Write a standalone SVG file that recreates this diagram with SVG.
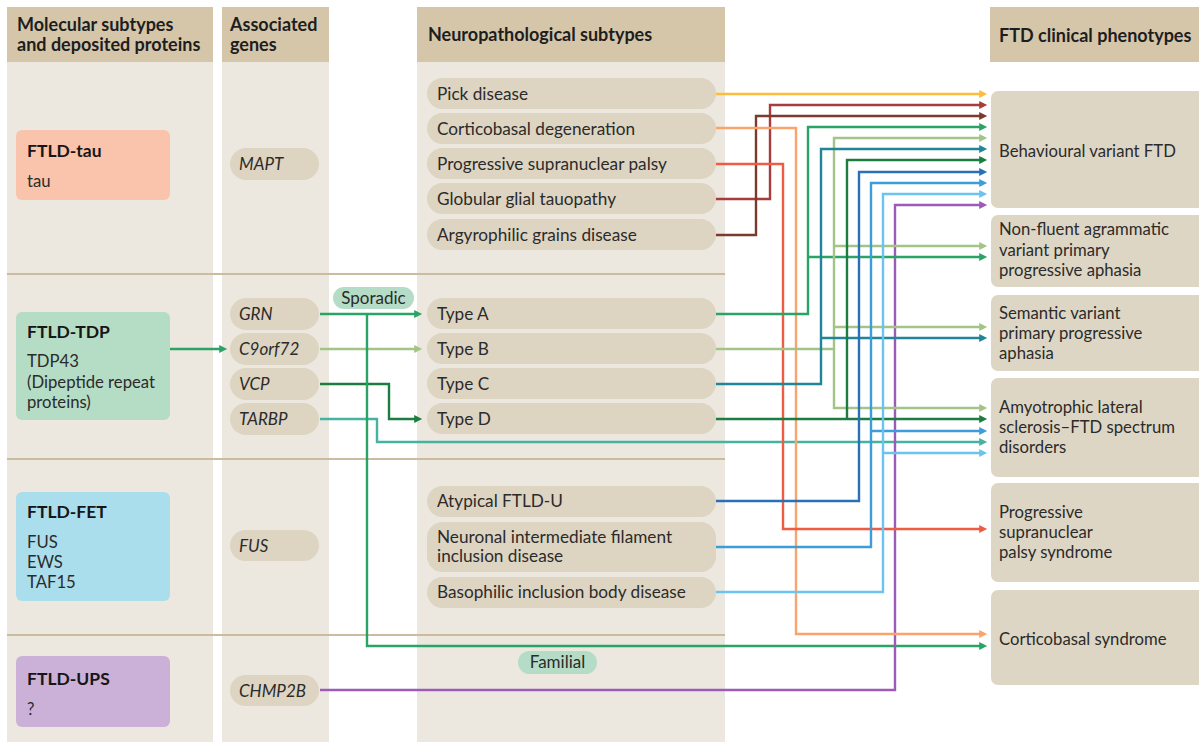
<svg xmlns="http://www.w3.org/2000/svg" width="1199" height="742" viewBox="0 0 1199 742">
<style>
text{font-family:Lato,"Open Sans","Liberation Sans",sans-serif;fill:#2b2b2b}
.hd{font-weight:bold;font-size:18px;fill:#1e1e1e}
.ti{font-weight:bold;font-size:17.5px;fill:#161616}
.bd{font-size:16.7px}
.np{font-size:17.2px}
.gn{font-size:17px;font-style:italic}
.lb{font-size:17px}
.col{fill:#ede8df}
.hdr{fill:#d5c6aa}
.pill{fill:#ddd4c2}
.ph{fill:#ded6c4}
.sep{stroke:#cbbc9f;stroke-width:2;fill:none}
.c{fill:none;stroke-width:2.4}
</style>
<defs>
<marker id="m-yel" viewBox="0 0 10 10" refX="1" refY="5" markerWidth="9" markerHeight="8" markerUnits="userSpaceOnUse" orient="auto"><path d="M0,0L10,5L0,10z" fill="#fbbd3c"/></marker>
<marker id="m-drd" viewBox="0 0 10 10" refX="1" refY="5" markerWidth="9" markerHeight="8" markerUnits="userSpaceOnUse" orient="auto"><path d="M0,0L10,5L0,10z" fill="#a83b3b"/></marker>
<marker id="m-brn" viewBox="0 0 10 10" refX="1" refY="5" markerWidth="9" markerHeight="8" markerUnits="userSpaceOnUse" orient="auto"><path d="M0,0L10,5L0,10z" fill="#7a3b2e"/></marker>
<marker id="m-org" viewBox="0 0 10 10" refX="1" refY="5" markerWidth="9" markerHeight="8" markerUnits="userSpaceOnUse" orient="auto"><path d="M0,0L10,5L0,10z" fill="#f8a46c"/></marker>
<marker id="m-red" viewBox="0 0 10 10" refX="1" refY="5" markerWidth="9" markerHeight="8" markerUnits="userSpaceOnUse" orient="auto"><path d="M0,0L10,5L0,10z" fill="#ee5c44"/></marker>
<marker id="m-grn" viewBox="0 0 10 10" refX="1" refY="5" markerWidth="9" markerHeight="8" markerUnits="userSpaceOnUse" orient="auto"><path d="M0,0L10,5L0,10z" fill="#2aa466"/></marker>
<marker id="m-lgr" viewBox="0 0 10 10" refX="1" refY="5" markerWidth="9" markerHeight="8" markerUnits="userSpaceOnUse" orient="auto"><path d="M0,0L10,5L0,10z" fill="#a2c587"/></marker>
<marker id="m-tea" viewBox="0 0 10 10" refX="1" refY="5" markerWidth="9" markerHeight="8" markerUnits="userSpaceOnUse" orient="auto"><path d="M0,0L10,5L0,10z" fill="#1f8597"/></marker>
<marker id="m-dgr" viewBox="0 0 10 10" refX="1" refY="5" markerWidth="9" markerHeight="8" markerUnits="userSpaceOnUse" orient="auto"><path d="M0,0L10,5L0,10z" fill="#1b7d40"/></marker>
<marker id="m-blu" viewBox="0 0 10 10" refX="1" refY="5" markerWidth="9" markerHeight="8" markerUnits="userSpaceOnUse" orient="auto"><path d="M0,0L10,5L0,10z" fill="#2871b6"/></marker>
<marker id="m-mbl" viewBox="0 0 10 10" refX="1" refY="5" markerWidth="9" markerHeight="8" markerUnits="userSpaceOnUse" orient="auto"><path d="M0,0L10,5L0,10z" fill="#3c9dd9"/></marker>
<marker id="m-lbl" viewBox="0 0 10 10" refX="1" refY="5" markerWidth="9" markerHeight="8" markerUnits="userSpaceOnUse" orient="auto"><path d="M0,0L10,5L0,10z" fill="#6cc3ee"/></marker>
<marker id="m-pur" viewBox="0 0 10 10" refX="1" refY="5" markerWidth="9" markerHeight="8" markerUnits="userSpaceOnUse" orient="auto"><path d="M0,0L10,5L0,10z" fill="#9b5bb6"/></marker>
<marker id="m-tgr" viewBox="0 0 10 10" refX="1" refY="5" markerWidth="9" markerHeight="8" markerUnits="userSpaceOnUse" orient="auto"><path d="M0,0L10,5L0,10z" fill="#46b3a2"/></marker>
</defs>
<rect width="1199" height="742" fill="#ffffff"/>

<g id="columns">
<rect class="col" x="7" y="62" width="206" height="680"/>
<rect class="hdr" x="7" y="7" width="206" height="55"/>
<rect class="col" x="222" y="62" width="107" height="680"/>
<rect class="hdr" x="222" y="7" width="107" height="55"/>
<rect class="col" x="417" y="62" width="308" height="680"/>
<rect class="hdr" x="417" y="7" width="308" height="55"/>
<rect class="hdr" x="990" y="7" width="209" height="55"/>
<text class="hd" x="17" y="31">Molecular subtypes</text>
<text class="hd" x="17" y="51">and deposited proteins</text>
<text class="hd" x="230" y="31">Associated</text>
<text class="hd" x="230" y="51">genes</text>
<text class="hd" x="428" y="41">Neuropathological subtypes</text>
<text class="hd" x="999" y="42">FTD clinical phenotypes</text>
<line class="sep" x1="7" y1="274" x2="725" y2="274"/>
<line class="sep" x1="7" y1="459" x2="725" y2="459"/>
<line class="sep" x1="7" y1="635" x2="725" y2="635"/>
</g>

<g id="ftld-tau"><rect x="16" y="130" width="154" height="70" rx="6" fill="#f9c4ab"/><text class="ti" x="27" y="157">FTLD-tau</text><text class="bd" x="27" y="187">tau</text></g>
<g id="ftld-tdp"><rect x="16" y="312" width="154" height="108" rx="6" fill="#b5dcc5"/><text class="ti" x="27" y="338">FTLD-TDP</text><text class="bd" x="27" y="367">TDP43</text><text class="bd" x="27" y="388">(Dipeptide repeat</text><text class="bd" x="27" y="408">proteins)</text></g>
<g id="ftld-fet"><rect x="16" y="492" width="154" height="109" rx="6" fill="#abdeec"/><text class="ti" x="27" y="518">FTLD-FET</text><text class="bd" x="27" y="548">FUS</text><text class="bd" x="27" y="568">EWS</text><text class="bd" x="27" y="588">TAF15</text></g>
<g id="ftld-ups"><rect x="16" y="656" width="154" height="71" rx="6" fill="#cbb1d8"/><text class="ti" x="27" y="685">FTLD-UPS</text><text class="bd" x="27" y="715">?</text></g>

<g id="gene-mapt"><rect class="pill" x="230" y="148" width="89" height="32" rx="16"/><text class="gn" x="239" y="170">MAPT</text></g>
<g id="gene-grn"><rect class="pill" x="230" y="298" width="89" height="32" rx="16"/><text class="gn" x="239" y="320">GRN</text></g>
<g id="gene-c9orf72"><rect class="pill" x="230" y="333" width="89" height="32" rx="16"/><text class="gn" x="239" y="355">C9orf72</text></g>
<g id="gene-vcp"><rect class="pill" x="230" y="368" width="89" height="32" rx="16"/><text class="gn" x="239" y="390">VCP</text></g>
<g id="gene-tarbp"><rect class="pill" x="230" y="403" width="89" height="32" rx="16"/><text class="gn" x="239" y="425">TARBP</text></g>
<g id="gene-fus"><rect class="pill" x="230" y="530" width="89" height="31" rx="15.5"/><text class="gn" x="239" y="552">FUS</text></g>
<g id="gene-chmp2b"><rect class="pill" x="230" y="675" width="89" height="31" rx="15.5"/><text class="gn" x="239" y="697">CHMP2B</text></g>

<g id="np-pick"><rect class="pill" x="427" y="78" width="289" height="31" rx="15.5"/><text class="np" x="437" y="100">Pick disease</text></g>
<g id="np-cbd"><rect class="pill" x="427" y="113" width="289" height="31" rx="15.5"/><text class="np" x="437" y="135">Corticobasal degeneration</text></g>
<g id="np-psp"><rect class="pill" x="427" y="148" width="289" height="31" rx="15.5"/><text class="np" x="437" y="170">Progressive supranuclear palsy</text></g>
<g id="np-ggt"><rect class="pill" x="427" y="183" width="289" height="31" rx="15.5"/><text class="np" x="437" y="205">Globular glial tauopathy</text></g>
<g id="np-agd"><rect class="pill" x="427" y="219" width="289" height="31" rx="15.5"/><text class="np" x="437" y="241">Argyrophilic grains disease</text></g>
<g id="np-typea"><rect class="pill" x="427" y="298" width="289" height="31" rx="15.5"/><text class="np" x="437" y="320">Type A</text></g>
<g id="np-typeb"><rect class="pill" x="427" y="333" width="289" height="31" rx="15.5"/><text class="np" x="437" y="355">Type B</text></g>
<g id="np-typec"><rect class="pill" x="427" y="368" width="289" height="31" rx="15.5"/><text class="np" x="437" y="390">Type C</text></g>
<g id="np-typed"><rect class="pill" x="427" y="403" width="289" height="31" rx="15.5"/><text class="np" x="437" y="425">Type D</text></g>
<g id="np-aftldu"><rect class="pill" x="427" y="486" width="289" height="31" rx="15.5"/><text class="np" x="437" y="507">Atypical FTLD-U</text></g>
<g id="np-nifid"><rect class="pill" x="427" y="522" width="289" height="50" rx="15.5"/><text class="np" x="437" y="543">Neuronal intermediate filament</text><text class="np" x="437" y="562">inclusion disease</text></g>
<g id="np-bibd"><rect class="pill" x="427" y="577" width="289" height="31" rx="15.5"/><text class="np" x="437" y="598">Basophilic inclusion body disease</text></g>

<g id="lbl-sporadic"><rect x="333" y="287" width="81" height="22" rx="11" fill="#b5dcc6"/><text class="lb" x="373.5" y="304" text-anchor="middle">Sporadic</text></g>
<g id="lbl-familial"><rect x="518" y="651" width="79" height="23" rx="11.5" fill="#b5dcc6"/><text class="lb" x="557.5" y="668" text-anchor="middle">Familial</text></g>

<g id="ph-bvftd"><rect class="ph" x="991" y="91" width="220" height="117" rx="7"/><text class="bd" x="999" y="157">Behavioural variant FTD</text></g>
<g id="ph-nfvppa"><rect class="ph" x="991" y="215" width="220" height="72" rx="7"/><text class="bd" x="999" y="235">Non-fluent agrammatic</text><text class="bd" x="999" y="256">variant primary</text><text class="bd" x="999" y="276">progressive aphasia</text></g>
<g id="ph-svppa"><rect class="ph" x="991" y="295" width="220" height="76" rx="7"/><text class="bd" x="999" y="319">Semantic variant</text><text class="bd" x="999" y="339">primary progressive</text><text class="bd" x="999" y="359">aphasia</text></g>
<g id="ph-als"><rect class="ph" x="991" y="378" width="220" height="99" rx="7"/><text class="bd" x="999" y="413">Amyotrophic lateral</text><text class="bd" x="999" y="433">sclerosis–FTD spectrum</text><text class="bd" x="999" y="453">disorders</text></g>
<g id="ph-psp"><rect class="ph" x="991" y="483" width="220" height="99" rx="7"/><text class="bd" x="999" y="518">Progressive</text><text class="bd" x="999" y="538">supranuclear</text><text class="bd" x="999" y="558">palsy syndrome</text></g>
<g id="ph-cbs"><rect class="ph" x="991" y="590" width="220" height="95" rx="7"/><text class="bd" x="999" y="645">Corticobasal syndrome</text></g>

<g id="connectors">
<path class="c" stroke="#2aa466" d="M170,349H220" marker-end="url(#m-grn)"/>
<path class="c" stroke="#2aa466" d="M320,314H415" marker-end="url(#m-grn)"/>
<path class="c" stroke="#a2c587" d="M320,349H415" marker-end="url(#m-lgr)"/>
<path class="c" stroke="#1b7d40" d="M320,384H389V419H415" marker-end="url(#m-dgr)"/>
<path class="c" stroke="#46b3a2" d="M320,419H377V442H980" marker-end="url(#m-tgr)"/>
<path class="c" stroke="#2aa466" d="M367,314V646H980" marker-end="url(#m-grn)"/>
<path class="c" stroke="#9b5bb6" d="M320,690H895V205H980" marker-end="url(#m-pur)"/>
<path class="c" stroke="#fbbd3c" d="M716,94H980" marker-end="url(#m-yel)"/>
<path class="c" stroke="#a83b3b" d="M716,199H770V105H980" marker-end="url(#m-drd)"/>
<path class="c" stroke="#7a3b2e" d="M716,235H756V116H980" marker-end="url(#m-brn)"/>
<path class="c" stroke="#f8a46c" d="M716,128H796V634H980" marker-end="url(#m-org)"/>
<path class="c" stroke="#ee5c44" d="M716,164H783V529H980" marker-end="url(#m-red)"/>
<path class="c" stroke="#2aa466" d="M716,314H808V127H980" marker-end="url(#m-grn)"/>
<path class="c" stroke="#2aa466" d="M808,257H980" marker-end="url(#m-grn)"/>
<path class="c" stroke="#a2c587" d="M716,349H834V138H980" marker-end="url(#m-lgr)"/>
<path class="c" stroke="#a2c587" d="M834,246H980" marker-end="url(#m-lgr)"/>
<path class="c" stroke="#a2c587" d="M834,327H980" marker-end="url(#m-lgr)"/>
<path class="c" stroke="#a2c587" d="M834,349V408H980" marker-end="url(#m-lgr)"/>
<path class="c" stroke="#1f8597" d="M716,384H821V149H980" marker-end="url(#m-tea)"/>
<path class="c" stroke="#1f8597" d="M821,338H980" marker-end="url(#m-tea)"/>
<path class="c" stroke="#1b7d40" d="M716,419H980" marker-end="url(#m-dgr)"/>
<path class="c" stroke="#1b7d40" d="M847,419V160H980" marker-end="url(#m-dgr)"/>
<path class="c" stroke="#2871b6" d="M716,501H859V172H980" marker-end="url(#m-blu)"/>
<path class="c" stroke="#3c9dd9" d="M716,547H871V183H980" marker-end="url(#m-mbl)"/>
<path class="c" stroke="#3c9dd9" d="M871,431H980" marker-end="url(#m-mbl)"/>
<path class="c" stroke="#6cc3ee" d="M716,592H883V194H980" marker-end="url(#m-lbl)"/>
<path class="c" stroke="#6cc3ee" d="M883,453H980" marker-end="url(#m-lbl)"/>
</g>
</svg>
